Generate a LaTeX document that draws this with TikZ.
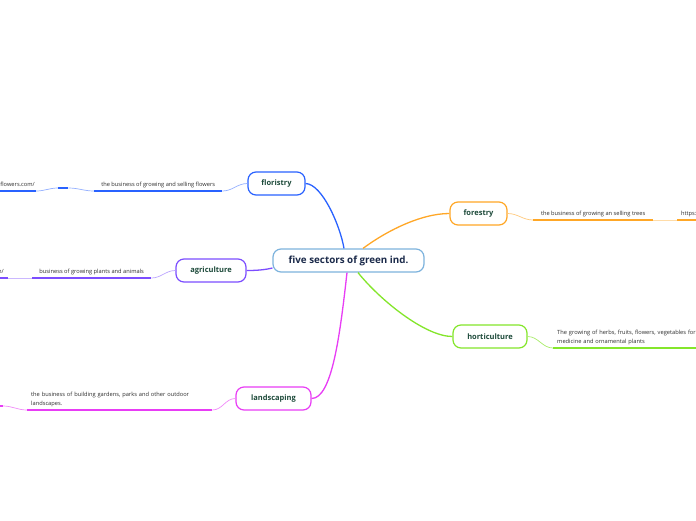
\documentclass[tikz,border=0pt]{standalone}
\usepackage{fontspec}
\setmainfont{Open Sans}
\usetikzlibrary{positioning}

\definecolor{rootblue}{HTML}{7DB3DD}
\definecolor{flblue}{HTML}{2962FF}
\definecolor{foorange}{HTML}{FFA726}
\definecolor{agpurple}{HTML}{7C4DFF}
\definecolor{hogreen}{HTML}{84E62B}
\definecolor{lsmagenta}{HTML}{E83DF5}
\definecolor{topictxt}{HTML}{1D4A3A}
\definecolor{roottxt}{HTML}{1B2A4A}
\definecolor{notetxt}{HTML}{2E2E2E}

\begin{document}
\begin{tikzpicture}[
        x=1pt, y=-1pt,
        topic/.style={draw, rounded corners=8pt, line width=1.2pt, fill=white, minimum height=23pt, inner sep=2pt, font=\bfseries\fontsize{7.5}{9}\selectfont, text=topictxt},
        root/.style={topic, draw=rootblue, font=\bfseries\fontsize{9.8}{11}\selectfont, text=roottxt},
        note/.style={inner xsep=4pt, inner ysep=3pt, font=\fontsize{5.7}{9}\selectfont, text=notetxt, align=left},
        branch/.style={line width=1.3pt},
        twig/.style={line width=0.7pt},
        uline/.style={line width=1.8pt}
    ]
    \useasboundingbox[fill=white] (0,0) rectangle (696,520);

    % Knoten
    \node[root, minimum width=151pt] (root) at (348.5,260.5) {five sectors of green ind.};
    \node[topic, draw=flblue, minimum width=57pt] (fl) at (276.5,183.5) {floristry};
    \node[topic, draw=foorange, minimum width=57pt] (fo) at (478.5,213.5) {forestry};
    \node[topic, draw=agpurple, minimum width=70pt] (ag) at (211,270.5) {agriculture};
    \node[topic, draw=hogreen, minimum width=74pt] (ho) at (490,336.5) {horticulture};
    \node[topic, draw=lsmagenta, minimum width=75pt] (ls) at (273.5,398.5) {landscaping};

    % Notizen
    \node[note, anchor=south west, minimum width=128pt] (flsub) at (94,191) {the business of growing and selling flowers};
    \node[note, anchor=south west, minimum width=10pt, inner sep=0pt] (flgap) at (58,188) {};
    \node[note, anchor=south east, inner xsep=1pt] (flurl) at (36,191) {https://www.flowers.com/};
    \node[note, anchor=south west, minimum width=119pt] (agsub) at (32,278) {business of growing plants and animals};
    \node[note, anchor=south east] (agurl) at (8,278) {https://www.agriculture.com/};
    \node[note, anchor=south west, text width=177pt] (lssub) at (27,410) {the business of building gardens, parks and other outdoor\\landscapes.};
    \node[note, anchor=south east, minimum width=40pt, minimum height=14pt] (lsleft) at (3,406) {};
    \node[note, anchor=south west, minimum width=120pt] (fosub) at (533,220) {the business of growing an selling trees};
    \node[note, anchor=south west] (fourl) at (677,220) {https://www.forestry.com/};
    \node[note, anchor=south west, text width=180pt] (hosub) at (553,348) {The growing of herbs, fruits, flowers, vegetables for\\medicine and ornamental plants};

    % Kanten zwischen Knoten
    \draw[branch, flblue] ([xshift=-4.5pt] root.north) .. controls (340,225) and (322,184) .. (fl.east);
    \draw[branch, foorange] ([xshift=14.5pt] root.north) .. controls (385,232) and (420,213.5) .. (fo.west);
    \draw[branch, agpurple] ([yshift=-7.5pt] root.west) .. controls (264,270) and (256,270.5) .. (ag.east);
    \draw[branch, hogreen] ([xshift=9.5pt] root.south) .. controls (380,300) and (425,336.5) .. (ho.west);
    \draw[branch, lsmagenta] ([xshift=-1.5pt] root.south) .. controls (340,335) and (332,398.5) .. (ls.east);

    % Kanten an Notizen
    \draw[twig, flblue!50] (fl.west) to[out=180, in=0] (flsub.south east);
    \draw[twig, flblue!50] (flsub.south west) to[out=180, in=0] (flgap.south east);
    \draw[twig, flblue!50] (flgap.south west) to[out=180, in=0] (flurl.south east);
    \draw[twig, agpurple!50] (ag.west) to[out=180, in=0] (agsub.south east);
    \draw[twig, agpurple!40] (agsub.south west) -- (agurl.south east);
    \draw[twig, lsmagenta!60] (ls.west) to[out=180, in=0] (lssub.south east);
    \draw[twig, lsmagenta!60] (lssub.south west) to[out=180, in=0] (lsleft.south east);
    \draw[twig, foorange!60] (fo.east) to[out=0, in=180] (fosub.south west);
    \draw[twig, foorange!40] (fosub.south east) -- (fourl.south west);
    \draw[twig, hogreen!70] (ho.east) to[out=0, in=180] (hosub.south west);

    % Unterstreichungen
    \draw[uline, flblue] (flsub.south west) -- (flsub.south east);
    \draw[uline, flblue] (flgap.south west) -- (flgap.south east);
    \draw[uline, flblue] (flurl.south west) -- (flurl.south east);
    \draw[uline, agpurple] (agsub.south west) -- (agsub.south east);
    \draw[uline, agpurple] (agurl.south west) -- (agurl.south east);
    \draw[uline, lsmagenta] (lssub.south west) -- (lssub.south east);
    \draw[uline, lsmagenta] (lsleft.south west) -- (lsleft.south east);
    \draw[uline, foorange] (fosub.south west) -- (fosub.south east);
    \draw[uline, foorange] (fourl.south west) -- (fourl.south east);
    \draw[uline, hogreen] (hosub.south west) -- (hosub.south east);
\end{tikzpicture}
\end{document}
